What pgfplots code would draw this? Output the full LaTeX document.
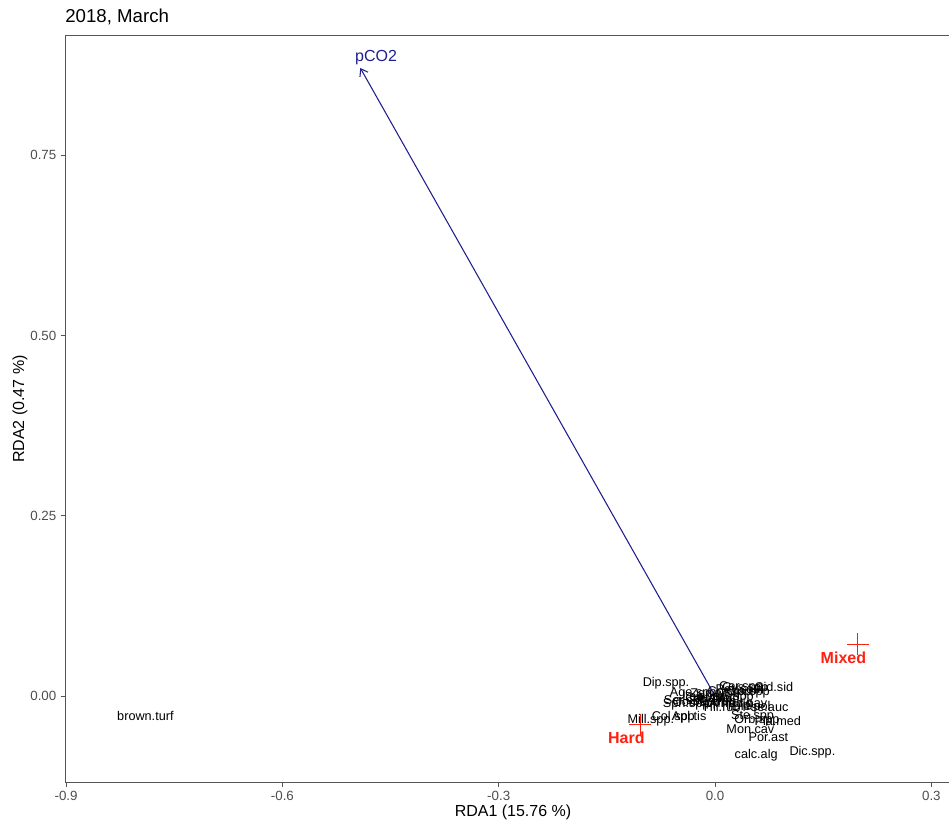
\documentclass[border=0pt]{standalone}
\usepackage{pgfplots}
\pgfplotsset{compat=1.18}
\usepackage{fontspec}
\setmainfont{Liberation Sans}
\usetikzlibrary{arrows.meta}
\definecolor{arrowblue}{HTML}{1F1F8F}
\definecolor{grpred}{HTML}{FF2010}
\definecolor{tickgrey}{HTML}{4D4D4D}
\definecolor{framegrey}{HTML}{555555}

\pgfplotstableread{
x y label
-0.790 -0.028 brown.turf
-0.068 0.018 Dip.spp.
-0.028 0.004 Age.spp.
0.082 0.012 Sid.sid
-0.089 -0.033 Mill.spp.
-0.058 -0.030 Col.spp
-0.036 -0.030 Apl.tis
0.049 -0.046 Mon.cav
0.074 -0.057 Por.ast
0.057 -0.082 calc.alg
0.135 -0.078 Dic.spp.
0.070 -0.015 Pse.auc
0.052 -0.028 Ste.spp
0.058 -0.034 Orb.spp
0.087 -0.034 Pla.med
-0.044 -0.006 Ser.sid
-0.040 -0.011 Sph.spp
-0.016 0.000 Lob.var
-0.010 -0.005 Cau.pro
0.000 -0.007 Jan.rub
0.006 -0.003 Hal.tun
0.020 0.005 Cor.spp
0.032 0.008 Pey.squ
0.042 0.010 Cys.spp
0.046 0.005 Cla.spp
0.022 -0.012 Amp.rig
0.040 -0.012 Pad.pav
0.010 -0.015 Hil.rub
0.050 -0.016 Dic.pol
0.036 0.012 Cer.spp
-0.005 0.002 Zan.typ
0.025 -0.002 Ulv.spp
-0.026 -0.010 Cod.spp
}\species

\begin{document}
\begin{tikzpicture}
\begin{axis}[
  scale only axis,
  width=666pt, height=560.25pt,
  xmin=-0.9015, xmax=0.33,
  ymin=-0.120, ymax=0.916,
  axis line style={framegrey, line width=0.6pt},
  xtick={-0.9,-0.6,-0.3,0,0.3},
  xticklabels={-0.9,-0.6,-0.3,0.0,0.3},
  ytick={0,0.25,0.5,0.75},
  yticklabels={0.00,0.25,0.50,0.75},
  tick align=outside,
  tick pos=left,
  major tick length=3pt,
  tick style={framegrey, line width=0.6pt},
  ticklabel style={font=\fontsize{10}{12}\selectfont, text=tickgrey},
  clip=false,
]
\addplot[arrowblue, line width=0.8pt, -{Straight Barb[length=5pt,width=7pt]}]
  coordinates {(0,0) (-0.492,0.871)};
\addplot[only marks, mark=none, nodes near coords, point meta=explicit symbolic,
  every node near coord/.append style={anchor=center, inner sep=0pt, font=\fontsize{9.5}{11}\selectfont, text=black}]
  table[meta=label] {\species};
\addplot[only marks, mark=+, mark size=8.25pt, grpred, mark options={line width=0.6pt}]
  coordinates {(0.198,0.072) (-0.104,-0.040)};
\addplot[only marks, mark=none, nodes near coords, point meta=explicit symbolic,
  every node near coord/.append style={anchor=center, inner sep=0pt, font=\fontsize{12}{14}\selectfont\bfseries, text=grpred}]
  table[meta=label] {
x y label
0.178 0.053 Mixed
-0.123 -0.058 Hard
};
\addplot[only marks, mark=none, nodes near coords, point meta=explicit symbolic,
  every node near coord/.append style={anchor=center, inner sep=0pt, font=\fontsize{12}{14}\selectfont, text=arrowblue}]
  table[meta=label] {
x y label
-0.470 0.885 pCO2
};
\end{axis}
\node[anchor=base west, inner sep=0pt, font=\fontsize{14}{16}\selectfont] at (0pt, 570pt) {2018, March};
\node[anchor=center, inner sep=0pt, font=\fontsize{12}{14}\selectfont] at (336pt, -22.5pt) {RDA1 (15.76 \%)};
\node[anchor=center, inner sep=0pt, rotate=90, font=\fontsize{12}{14}\selectfont] at (-33.75pt, 280.1pt) {RDA2 (0.47 \%)};
\pgfresetboundingbox
\useasboundingbox (-48.75pt,-31.875pt) rectangle (663pt,586.875pt);
\end{tikzpicture}
\end{document}
